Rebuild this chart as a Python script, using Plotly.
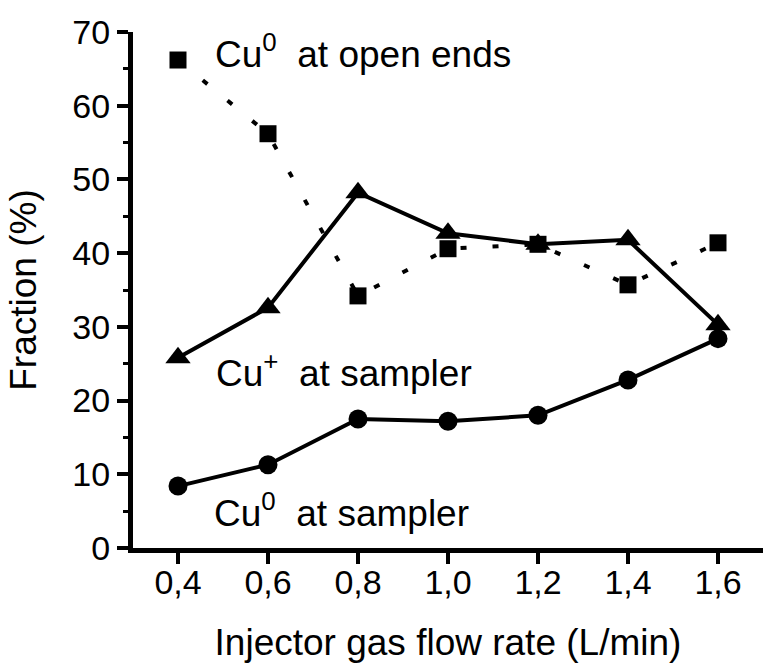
import plotly.graph_objects as go

flow_rate = [0.4, 0.6, 0.8, 1.0, 1.2, 1.4, 1.6]
tick_labels = ["0,4", "0,6", "0,8", "1,0", "1,2", "1,4", "1,6"]
cu0_open_ends = [66.2, 56.2, 34.2, 40.6, 41.2, 35.7, 41.4]
cu_plus_sampler = [25.8, 32.6, 48.2, 42.7, 41.2, 41.8, 30.3]
cu0_sampler = [8.4, 11.3, 17.5, 17.2, 18.0, 22.8, 28.4]

FONT = "Liberation Sans, Arial, sans-serif"

fig = go.Figure()
fig.add_trace(go.Scatter(
    x=flow_rate, y=cu0_open_ends, mode="lines+markers", name="Cu0 at open ends",
    line=dict(color="black", width=4, dash="6px,26px"),
    marker=dict(symbol="square", size=17, color="black"),
))
fig.add_trace(go.Scatter(
    x=flow_rate, y=cu_plus_sampler, mode="lines+markers", name="Cu+ at sampler",
    line=dict(color="black", width=4),
    marker=dict(symbol="triangle-up", size=22, color="black"),
))
fig.add_trace(go.Scatter(
    x=flow_rate, y=cu0_sampler, mode="lines+markers", name="Cu0 at sampler",
    line=dict(color="black", width=4),
    marker=dict(symbol="circle", size=19, color="black"),
))

ann_font = dict(family=FONT, size=37, color="black")
fig.add_annotation(x=0.477, y=67.3, xref="x", yref="y", text="Cu<sup>0</sup>  at open ends",
                   showarrow=False, xanchor="left", yanchor="middle", font=ann_font)
fig.add_annotation(x=0.48, y=24.1, xref="x", yref="y", text="Cu<sup>+</sup>  at sampler",
                   showarrow=False, xanchor="left", yanchor="middle", font=ann_font)
fig.add_annotation(x=0.475, y=5.1, xref="x", yref="y", text="Cu<sup>0</sup>  at sampler",
                   showarrow=False, xanchor="left", yanchor="middle", font=ann_font)

fig.update_layout(
    width=764, height=663,
    margin=dict(l=133, r=1, t=32, b=115, autoexpand=False),
    plot_bgcolor="white", paper_bgcolor="white",
    showlegend=False,
    font=dict(family=FONT, size=34, color="black"),
)
fig.update_xaxes(
    range=[0.3, 1.7], tickvals=flow_rate, ticktext=tick_labels,
    showline=True, linecolor="black", linewidth=5, mirror=False,
    ticks="outside", ticklen=11, tickwidth=4, tickcolor="black",
    ticklabelstandoff=-11,
    showgrid=False, zeroline=False, automargin=False,
    tickfont=dict(family=FONT, size=34, color="black"),
    title=dict(text="Injector gas flow rate (L/min)", font=dict(family=FONT, size=37), standoff=35),
)
fig.update_yaxes(
    range=[0, 70], tickvals=[0, 10, 20, 30, 40, 50, 60, 70],
    showline=True, linecolor="black", linewidth=5, mirror=False,
    ticks="outside", ticklen=11, tickwidth=4, tickcolor="black",
    ticklabelstandoff=0,
    minor=dict(dtick=5, ticks="outside", ticklen=5, tickwidth=3, tickcolor="black"),
    showgrid=False, zeroline=False, automargin=False,
    tickfont=dict(family=FONT, size=34, color="black"),
    title=dict(text="Fraction (%)", font=dict(family=FONT, size=37), standoff=26),
)

fig.write_html("out.html", config={"displayModeBar": False},
               post_script="document.body.style.margin='0';")
